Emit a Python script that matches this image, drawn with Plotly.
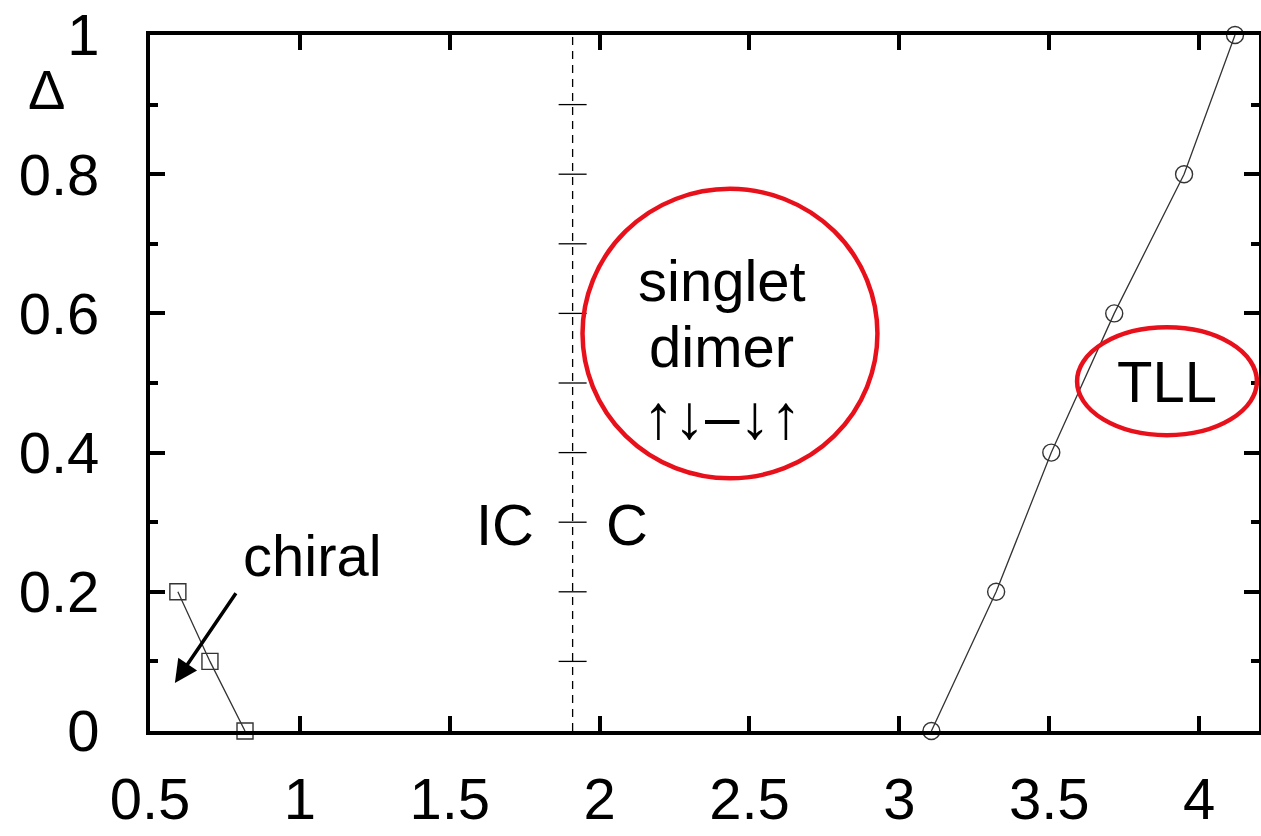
import plotly.graph_objects as go

# Data
tll_x = [3.107, 3.323, 3.507, 3.717, 3.95, 4.12]
tll_y = [0.0, 0.2, 0.4, 0.6, 0.8, 1.0]
chiral_x = [0.593, 0.70, 0.817]
chiral_y = [0.2, 0.1, 0.0]
ic_c_x = 1.91
cross_y = [0.1, 0.2, 0.3, 0.4, 0.5, 0.6, 0.7, 0.8, 0.9]
x_ticks = [0.5, 1, 1.5, 2, 2.5, 3, 3.5, 4]
x_ticklabels = ["0.5", "1", "1.5", "2", "2.5", "3", "3.5", "4"]
y_ticks = [0, 0.2, 0.4, 0.6, 0.8, 1]
y_ticklabels = ["0", "0.2", "0.4", "0.6", "0.8", "1"]

FONT = "Liberation Sans, Arial, sans-serif"
fs = 58

fig = go.Figure()

# dashed IC/C boundary
fig.add_trace(go.Scatter(x=[ic_c_x, ic_c_x], y=[0, 1], mode="lines",
                         line=dict(color="black", width=1.3, dash="8px,6px"),
                         showlegend=False, hoverinfo="skip"))
fig.add_trace(go.Scatter(x=[ic_c_x] * len(cross_y), y=cross_y, mode="markers",
                         marker=dict(symbol="line-ew", size=20,
                                     line=dict(color="black", width=1.3)),
                         showlegend=False, hoverinfo="skip"))

fig.add_trace(go.Scatter(x=tll_x, y=tll_y, mode="lines+markers",
                         line=dict(color="#333333", width=1.3),
                         marker=dict(symbol="circle-open", size=17,
                                     color="#333333", line=dict(width=1.4)),
                         showlegend=False, cliponaxis=False))
fig.add_trace(go.Scatter(x=chiral_x, y=chiral_y, mode="lines+markers",
                         line=dict(color="#333333", width=1.3),
                         marker=dict(symbol="square-open", size=16,
                                     color="#333333", line=dict(width=1.4)),
                         showlegend=False, cliponaxis=False))

# red ellipses
fig.add_shape(type="circle", xref="x", yref="y", x0=1.943, x1=2.927,
              y0=0.363, y1=0.779, line=dict(color="#e8101a", width=4.5))
fig.add_shape(type="circle", xref="x", yref="y", x0=3.593, x1=4.193,
              y0=0.425, y1=0.58, line=dict(color="#e8101a", width=4.5))

def txt(x, y, s, xref="x", yref="y", size=fs):
    fig.add_annotation(x=x, y=y, xref=xref, yref=yref, text=s, showarrow=False,
                       font=dict(family=FONT, size=size, color="black"),
                       xanchor="center", yanchor="middle")

txt(2.407, 0.647, "singlet")
txt(2.407, 0.552, "dimer")
txt(2.407, 0.452, "↑↓–↓↑", size=62)
txt(3.893, 0.502, "TLL")
txt(1.683, 0.296, "IC")
txt(2.093, 0.296, "C")
txt(1.043, 0.252, "chiral")
txt(-0.093, 0.921, "Δ", xref="paper", yref="paper", size=56)

fig.add_annotation(x=0.583, y=0.069, ax=0.79, ay=0.2, xref="x", yref="y",
                   axref="x", ayref="y", showarrow=True, arrowhead=2,
                   arrowsize=1.3, arrowwidth=3.5, arrowcolor="black", text="")

axis_common = dict(showline=True, linewidth=4, linecolor="black", mirror="ticks",
                   ticks="inside", tickwidth=4, tickcolor="black", ticklen=15,
                   showgrid=False, zeroline=False, automargin=False,
                   tickfont=dict(family=FONT, size=fs, color="black"))

fig.update_xaxes(range=[0.5, 4.2], tickvals=x_ticks, ticktext=x_ticklabels,
                 ticklabelstandoff=14, **axis_common)
fig.update_yaxes(range=[0, 1], tickvals=y_ticks, ticktext=y_ticklabels,
                 ticklabelstandoff=35,
                 minor=dict(ticks="inside", ticklen=8, tickwidth=4,
                            tickcolor="black", dtick=0.1, tick0=0),
                 **axis_common)

fig.update_layout(width=1261, height=836, margin=dict(l=150, r=2, t=35, b=105),
                  plot_bgcolor="white", paper_bgcolor="white")

fig.write_html("out.html")
